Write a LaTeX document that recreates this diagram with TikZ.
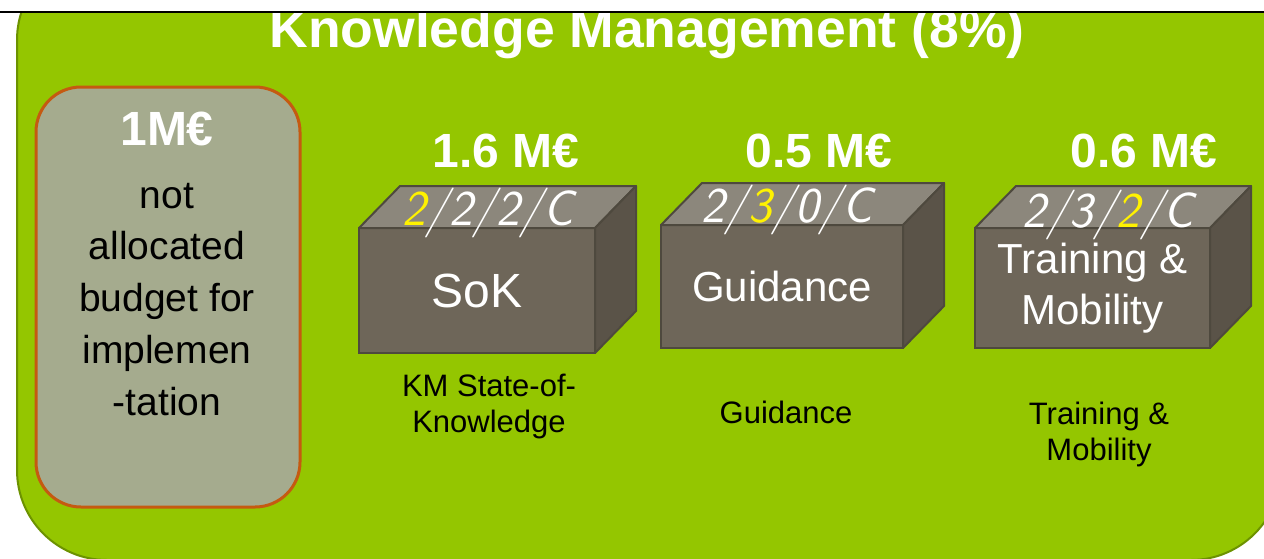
\documentclass[tikz,border=0pt]{standalone}
\usepackage{fontspec}
\setmainfont{Liberation Sans}
\usetikzlibrary{positioning}

\definecolor{kmgreen}{RGB}{148,198,0}
\definecolor{kmgreenedge}{RGB}{108,146,0}
\definecolor{budgetgray}{RGB}{165,171,142}
\definecolor{budgetedge}{RGB}{197,90,17}
\definecolor{boxfront}{RGB}{110,102,89}
\definecolor{boxtop}{RGB}{140,135,124}
\definecolor{boxside}{RGB}{90,83,72}
\definecolor{boxedge}{RGB}{78,73,62}
\definecolor{codeyellow}{RGB}{255,242,0}

\begin{document}
\begin{tikzpicture}[x=1pt,y=-1pt,
    titletext/.style={text=white, font=\fontsize{53.5}{60}\selectfont\bfseries, inner sep=0},
    pricetext/.style={text=white, font=\fontsize{48}{54}\selectfont\bfseries, inner sep=0},
    budgettext/.style={text=black, font=\fontsize{39}{52}\selectfont, inner sep=0},
    budgetbox/.style={draw=budgetedge, line width=3pt, fill=budgetgray, rounded corners=45pt,
        minimum width=264pt, minimum height=420pt, inner sep=0, outer sep=0},
    cube/.style={draw=boxedge, line width=2pt, fill=boxfront, text=white, align=center,
        inner sep=0, outer sep=0},
    codetext/.style={text=white, font=\fontsize{50}{54}\sffamily\slshape, inner sep=0},
    labeltext/.style={text=black, font=\fontsize{31}{36}\selectfont, align=center, inner sep=0}]
\useasboundingbox (0,0) rectangle (1264,558);
%background
\begin{scope}
    \clip (0,12) rectangle (1264,558);
    \draw[kmgreenedge, fill=kmgreen, line width=2pt, rounded corners=90pt] (17,-50) rectangle (1281,560);
\end{scope}
\node[titletext, anchor=base] (title) at (647,47) {Knowledge Management (8\%)};

%not allocated
\node[budgetbox] (budget) at (168,297) {};
\node[pricetext, anchor=base] (free) at (167,145) {1M€};
\foreach \t [count=\i] in {not, allocated, budget for, implemen, -tation}
    \node[budgettext, anchor=base] (budget\i) at (167,{208+(\i-1)*51.75}) {\t};

%work packages
\node[cube, minimum width=236pt, minimum height=125pt, font=\fontsize{48}{52}\selectfont]
    (sok) at (477,290.5) {SoK};
\node[cube, minimum width=242pt, minimum height=123pt, font=\fontsize{42}{52}\selectfont]
    (guid) at (782,286.5) {Guidance};
\node[cube, minimum width=235pt, minimum height=120pt, font=\fontsize{42}{52}\selectfont]
    (train) at (1092.5,288) {\raisebox{-4pt}{\shortstack{Training \&\\[9pt]Mobility}}};
\foreach \n in {sok,guid,train}{
    \filldraw[boxtop, draw=boxedge, line width=2pt, line join=round] (\n.north west) -- ++(41,-42)
        -- ([shift={(41,-42)}]\n.north east) -- (\n.north east) -- cycle;
    \filldraw[boxside, draw=boxedge, line width=2pt, line join=round] (\n.north east) -- ++(41,-42)
        -- ([shift={(41,-42)}]\n.south east) -- (\n.south east) -- cycle;
}
\node[codetext, anchor=base] (sokcode) at ([xshift=11pt,yshift=3pt]sok.north)
    {\textcolor{codeyellow}{2}/2/2/C};
\node[codetext, anchor=base] (guidcode) at ([xshift=5pt,yshift=3pt]guid.north)
    {2/\textcolor{codeyellow}{3}/0/C};
\node[codetext, anchor=base] (traincode) at ([xshift=16pt,yshift=1pt]train.north)
    {2/3/\textcolor{codeyellow}{2}/C};

%budgets
\node[pricetext, anchor=base] (sokprice) at (506,167) {1.6 M€};
\node[pricetext, anchor=base] (guidprice) at (819,167) {0.5 M€};
\node[pricetext, anchor=base] (trainprice) at (1144,167) {0.6 M€};

%names (base = last line)
\node[labeltext, anchor=base] (soklabel) at (489,432) {KM State-of-\\Knowledge};
\node[labeltext, anchor=base] (guidlabel) at (786,423) {Guidance};
\node[labeltext, anchor=base] (trainlabel) at (1099,460) {Training \&\\Mobility};

%frame
\fill[white] (0,0) rectangle (1264,10.5);
\draw[line width=2pt] (0,11.5) -- (1264,11.5);
\end{tikzpicture}
\end{document}
